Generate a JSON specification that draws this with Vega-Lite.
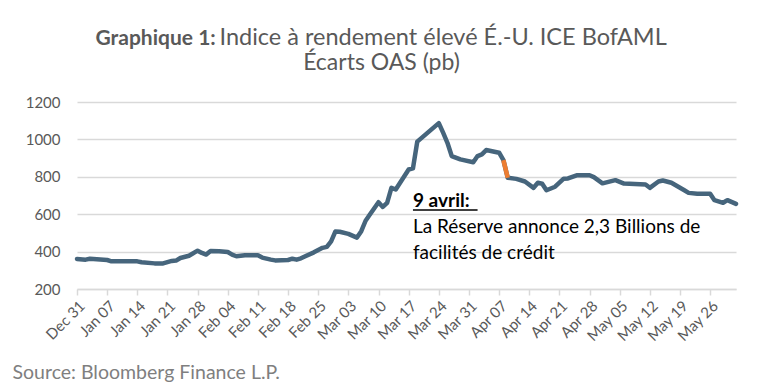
{
  "$schema": "https://vega.github.io/schema/vega-lite/v6.json",
  "width": 659,
  "height": 187,
  "autosize": "none",
  "padding": {"left": 77, "top": 102, "right": 26, "bottom": 94},
  "background": "white",
  "config": {"view": {"stroke": null}, "font": "Lato"},
  "title": {
    "text": "Écarts OAS (pb)",
    "font": "Lato",
    "fontSize": 23,
    "fontWeight": "normal",
    "color": "#595959",
    "frame": "group",
    "anchor": "middle",
    "dx": -25,
    "offset": -50
  },
  "datasets": {
    "oas": [
      {"d": "2019-12-31", "v": 361},
      {"d": "2020-01-02", "v": 357},
      {"d": "2020-01-03", "v": 362},
      {"d": "2020-01-07", "v": 355},
      {"d": "2020-01-08", "v": 348},
      {"d": "2020-01-14", "v": 348},
      {"d": "2020-01-15", "v": 343},
      {"d": "2020-01-18", "v": 337},
      {"d": "2020-01-20", "v": 337},
      {"d": "2020-01-22", "v": 350},
      {"d": "2020-01-23", "v": 352},
      {"d": "2020-01-24", "v": 366},
      {"d": "2020-01-26", "v": 378},
      {"d": "2020-01-28", "v": 405},
      {"d": "2020-01-29", "v": 393},
      {"d": "2020-01-30", "v": 384},
      {"d": "2020-01-31", "v": 403},
      {"d": "2020-02-02", "v": 402},
      {"d": "2020-02-04", "v": 398},
      {"d": "2020-02-05", "v": 384},
      {"d": "2020-02-06", "v": 375},
      {"d": "2020-02-08", "v": 380},
      {"d": "2020-02-11", "v": 380},
      {"d": "2020-02-12", "v": 368},
      {"d": "2020-02-14", "v": 357},
      {"d": "2020-02-15", "v": 353},
      {"d": "2020-02-18", "v": 355},
      {"d": "2020-02-19", "v": 362},
      {"d": "2020-02-20", "v": 357},
      {"d": "2020-02-21", "v": 364},
      {"d": "2020-02-22", "v": 375},
      {"d": "2020-02-24", "v": 396},
      {"d": "2020-02-26", "v": 420},
      {"d": "2020-02-27", "v": 425},
      {"d": "2020-02-28", "v": 455},
      {"d": "2020-02-29", "v": 508},
      {"d": "2020-03-01", "v": 506},
      {"d": "2020-03-03", "v": 495},
      {"d": "2020-03-05", "v": 475},
      {"d": "2020-03-06", "v": 509},
      {"d": "2020-03-07", "v": 565},
      {"d": "2020-03-08", "v": 598},
      {"d": "2020-03-10", "v": 664},
      {"d": "2020-03-11", "v": 639},
      {"d": "2020-03-12", "v": 661},
      {"d": "2020-03-13", "v": 741},
      {"d": "2020-03-14", "v": 732},
      {"d": "2020-03-17", "v": 839},
      {"d": "2020-03-18", "v": 845},
      {"d": "2020-03-19", "v": 988},
      {"d": "2020-03-24", "v": 1087},
      {"d": "2020-03-25", "v": 1036},
      {"d": "2020-03-26", "v": 982},
      {"d": "2020-03-27", "v": 911},
      {"d": "2020-03-29", "v": 893},
      {"d": "2020-04-01", "v": 878},
      {"d": "2020-04-02", "v": 911},
      {"d": "2020-04-03", "v": 920},
      {"d": "2020-04-04", "v": 943},
      {"d": "2020-04-07", "v": 929},
      {"d": "2020-04-08", "v": 889, "hl": true},
      {"d": "2020-04-09", "v": 795, "hl": true},
      {"d": "2020-04-11", "v": 789},
      {"d": "2020-04-13", "v": 775},
      {"d": "2020-04-15", "v": 741},
      {"d": "2020-04-16", "v": 768},
      {"d": "2020-04-17", "v": 763},
      {"d": "2020-04-18", "v": 728},
      {"d": "2020-04-20", "v": 747},
      {"d": "2020-04-22", "v": 790},
      {"d": "2020-04-23", "v": 791},
      {"d": "2020-04-25", "v": 808},
      {"d": "2020-04-28", "v": 808},
      {"d": "2020-04-29", "v": 798},
      {"d": "2020-05-01", "v": 765},
      {"d": "2020-05-04", "v": 782},
      {"d": "2020-05-06", "v": 764},
      {"d": "2020-05-11", "v": 759},
      {"d": "2020-05-12", "v": 741},
      {"d": "2020-05-14", "v": 775},
      {"d": "2020-05-15", "v": 780},
      {"d": "2020-05-17", "v": 768},
      {"d": "2020-05-20", "v": 728},
      {"d": "2020-05-21", "v": 714},
      {"d": "2020-05-23", "v": 709},
      {"d": "2020-05-26", "v": 709},
      {"d": "2020-05-27", "v": 675},
      {"d": "2020-05-29", "v": 661},
      {"d": "2020-05-30", "v": 675},
      {"d": "2020-06-01", "v": 655}
    ],
    "note": [
      {"d": "2020-03-18", "v": 640, "t": "9 avril:", "bold": true},
      {"d": "2020-03-18", "v": 498, "t": "La Réserve annonce 2,3 Billions de", "bold": false},
      {"d": "2020-03-18", "v": 363, "t": "facilités de crédit", "bold": false}
    ],
    "underline": [
      {"d": "2020-03-18", "d2": "2020-04-02", "v": 622}
    ]
  },
  "resolve": {"axis": {"x": "independent"}},
  "encoding": {
    "y": {
      "field": "v",
      "type": "quantitative",
      "scale": {"domain": [200, 1200], "nice": false, "zero": false},
      "axis": {
        "values": [200, 400, 600, 800, 1000, 1200],
        "format": "d",
        "title": "Graphique 1:",
        "titleFont": "Lato",
        "titleFontSize": 21,
        "titleFontWeight": "bold",
        "titleColor": "#595959",
        "titleAngle": 0,
        "titleAlign": "left",
        "titleBaseline": "alphabetic",
        "titleX": 18,
        "titleY": -58,
        "ticks": false,
        "domain": false,
        "labelFont": "Lato",
        "labelFontSize": 15,
        "labelColor": "#595959",
        "labelPadding": 17,
        "gridColor": "#D9D9D9",
        "gridWidth": 1.5
      }
    }
  },
  "layer": [
    {
      "data": {"name": "oas"},
      "mark": {"type": "line", "color": "#46657C", "strokeWidth": 4.5, "strokeJoin": "round", "strokeCap": "round"},
      "encoding": {
        "x": {
          "field": "d",
          "type": "temporal",
          "scale": {"type": "utc", "domain": [{"year": 2019, "month": 12, "date": 31, "utc": true}, {"year": 2020, "month": 6, "date": 1, "utc": true}]},
          "axis": {
            "orient": "bottom",
            "values": [
              {"year": 2019, "month": 12, "date": 31, "utc": true},
              {"year": 2020, "month": 1, "date": 7, "utc": true},
              {"year": 2020, "month": 1, "date": 14, "utc": true},
              {"year": 2020, "month": 1, "date": 21, "utc": true},
              {"year": 2020, "month": 1, "date": 28, "utc": true},
              {"year": 2020, "month": 2, "date": 4, "utc": true},
              {"year": 2020, "month": 2, "date": 11, "utc": true},
              {"year": 2020, "month": 2, "date": 18, "utc": true},
              {"year": 2020, "month": 2, "date": 25, "utc": true},
              {"year": 2020, "month": 3, "date": 3, "utc": true},
              {"year": 2020, "month": 3, "date": 10, "utc": true},
              {"year": 2020, "month": 3, "date": 17, "utc": true},
              {"year": 2020, "month": 3, "date": 24, "utc": true},
              {"year": 2020, "month": 3, "date": 31, "utc": true},
              {"year": 2020, "month": 4, "date": 7, "utc": true},
              {"year": 2020, "month": 4, "date": 14, "utc": true},
              {"year": 2020, "month": 4, "date": 21, "utc": true},
              {"year": 2020, "month": 4, "date": 28, "utc": true},
              {"year": 2020, "month": 5, "date": 5, "utc": true},
              {"year": 2020, "month": 5, "date": 12, "utc": true},
              {"year": 2020, "month": 5, "date": 19, "utc": true},
              {"year": 2020, "month": 5, "date": 26, "utc": true}
            ],
            "format": "%b %d",
            "labelAngle": -45,
            "labelAlign": "right",
            "labelBaseline": "top",
            "labelFont": "Lato",
            "labelFontSize": 15,
            "labelColor": "#595959",
            "labelPadding": 3,
            "labelOverlap": false,
            "labelFlush": false,
            "grid": false,
            "domainColor": "#D9D9D9",
            "domainWidth": 1.5,
            "tickColor": "#D9D9D9",
            "tickWidth": 1.5,
            "tickSize": 6,
            "title": "Source: Bloomberg Finance L.P.",
            "titleFont": "Lato",
            "titleFontSize": 19.5,
            "titleFontWeight": "normal",
            "titleColor": "#7F7F7F",
            "titleAnchor": "start",
            "titleAlign": "left",
            "titleBaseline": "alphabetic",
            "titleX": -65,
            "titleY": 89
          }
        }
      }
    },
    {
      "data": {"name": "oas"},
      "transform": [{"filter": "datum.hl === true"}],
      "mark": {"type": "line", "color": "#ED7D31", "strokeWidth": 4.5, "strokeCap": "butt"},
      "encoding": {
        "x": {
          "field": "d",
          "type": "temporal",
          "axis": {
            "orient": "top",
            "labels": false,
            "ticks": false,
            "domain": false,
            "grid": false,
            "title": "Indice à rendement élevé É.-U. ICE BofAML",
            "titleFont": "Lato",
            "titleFontSize": 23.5,
            "titleFontWeight": "normal",
            "titleColor": "#595959",
            "titleAnchor": "start",
            "titleAlign": "left",
            "titleBaseline": "alphabetic",
            "titleX": 142,
            "titleY": -58
          }
        }
      }
    },
    {
      "data": {"name": "note"},
      "transform": [{"filter": "datum.bold"}],
      "mark": {"type": "text", "align": "left", "baseline": "alphabetic", "font": "Lato", "fontSize": 19, "fontWeight": "bold", "color": "#000000"},
      "encoding": {"x": {"field": "d", "type": "temporal", "axis": null}, "text": {"field": "t"}}
    },
    {
      "data": {"name": "note"},
      "transform": [{"filter": "!datum.bold"}],
      "mark": {"type": "text", "align": "left", "baseline": "alphabetic", "font": "Lato", "fontSize": 19, "fontWeight": "normal", "color": "#000000"},
      "encoding": {"x": {"field": "d", "type": "temporal", "axis": null}, "text": {"field": "t"}}
    },
    {
      "data": {"name": "underline"},
      "mark": {"type": "rule", "color": "#000000", "strokeWidth": 1.5},
      "encoding": {"x": {"field": "d", "type": "temporal", "axis": null}, "x2": {"field": "d2"}}
    }
  ]
}
